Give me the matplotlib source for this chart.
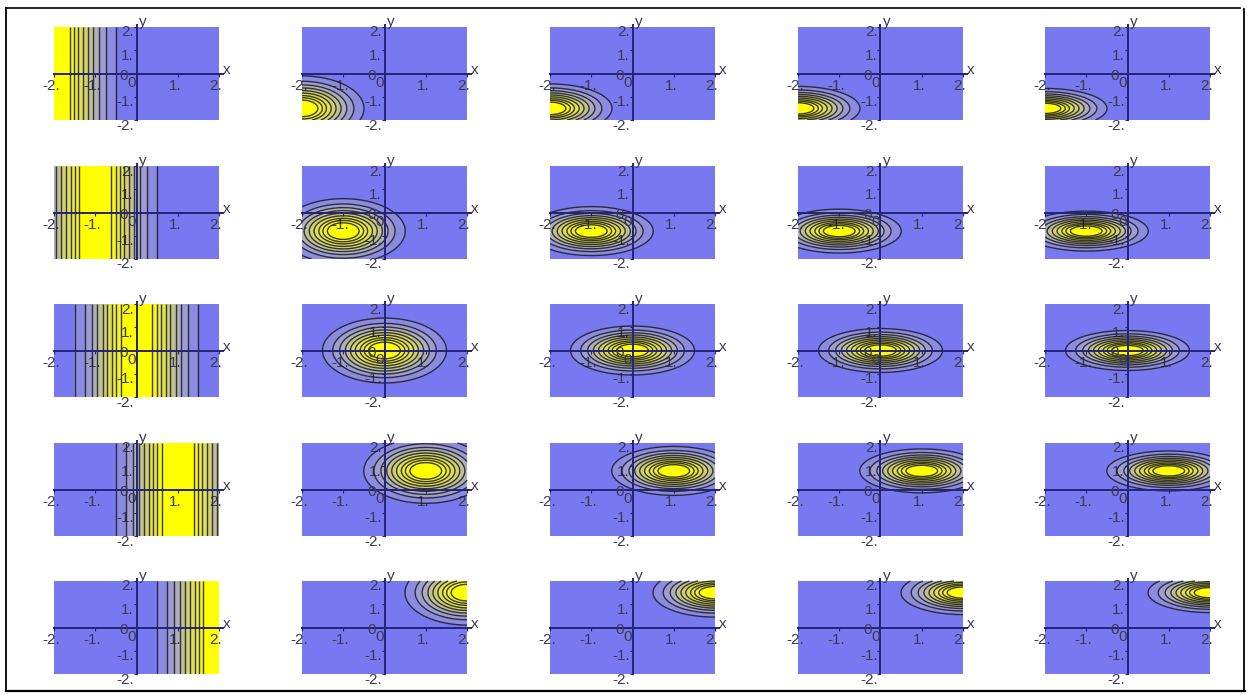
import numpy as np
import matplotlib
matplotlib.use("Agg")
import matplotlib.pyplot as plt
from matplotlib.colors import LinearSegmentedColormap
from matplotlib.lines import Line2D
from matplotlib.transforms import ScaledTranslation

W, H = 1248, 695
plt.rcParams['font.family'] = ['Liberation Sans', 'DejaVu Sans']

# values
centre_x = [-2.0, -1.0, 0.0, 1.0, 2.0]
centre_y = [-1.5, -0.8, 0.0, 0.8, 1.5]
spread_x = 0.7
spread_y = [None, 0.65, 0.49, 0.44, 0.40]
levels = [0.0, 0.1, 0.2, 0.3, 0.4, 0.5, 0.6, 0.7, 0.78, 0.86, 1.0]
xticks = [-2, -1, 1, 2]
xtick_labels = ['-2.', '-1.', '1.', '2.']
yticks = [-2, -1, 1, 2]
ytick_labels = ['-2.', '-1.', '1.', '2.']

col_left = [54, 302, 550, 798, 1045]
row_top = [27, 166, 304, 443, 581]
panel_w, panel_h = 165, 93

cmap = LinearSegmentedColormap.from_list(
    'by', [(0.0, '#7878f0'), (0.3, '#a9a9c8'), (0.55, '#cfcf78'), (0.85, '#f4f430'), (1.0, '#ffff00')])
axis_col = '#23237a'
text_col = '#3a3a50'
line_col = '#1a1a20'

fig = plt.figure(figsize=(W / 100, H / 100), dpi=100, facecolor='white')

grid = np.linspace(-2, 2, 241)
X, Y = np.meshgrid(grid, grid)
shift_x = ScaledTranslation(-3 / 100, 0, fig.dpi_scale_trans)
shift_y = ScaledTranslation(0, -4 / 100, fig.dpi_scale_trans)

for r, top in enumerate(row_top):
    for c, left in enumerate(col_left):
        extra = 0.1 / 4
        ax = fig.add_axes([left / W, 1 - (top + panel_h) / H,
                           panel_w * (1 + extra) / W, panel_h * (1 + extra) / H])
        ax.set_xlim(-2, 2.1)
        ax.set_ylim(-2, 2.1)
        ax.patch.set_alpha(0)
        Z = (X - centre_x[r]) ** 2 / (2 * spread_x ** 2)
        if spread_y[c] is not None:
            Z = Z + (Y - centre_y[r]) ** 2 / (2 * spread_y[c] ** 2)
        Z = np.exp(-Z)
        ax.contourf(X, Y, Z, levels=levels, cmap=cmap, vmin=0.05, vmax=0.93, zorder=1)
        ax.contour(X, Y, Z, levels=levels[1:-1], colors=line_col, linewidths=1.0,
                   alpha=0.85, zorder=2)
        for s in ('top', 'right'):
            ax.spines[s].set_visible(False)
        for s in ('left', 'bottom'):
            ax.spines[s].set_position('zero')
            ax.spines[s].set_color(axis_col)
            ax.spines[s].set_linewidth(1.4)
            ax.spines[s].set_zorder(5)
        ax.set_xticks(xticks, xtick_labels)
        ax.set_yticks(yticks, ytick_labels)
        ax.tick_params(axis='both', length=2, width=0.8, color=axis_col,
                       labelsize=11, labelcolor=text_col)
        ax.tick_params(axis='x', pad=2)
        ax.tick_params(axis='y', pad=0)
        for lab in ax.get_xticklabels():
            lab.set_transform(lab.get_transform() + shift_x)
            lab.set_zorder(6)
        for lab in ax.get_yticklabels():
            lab.set_transform(lab.get_transform() + shift_y)
            lab.set_zorder(6)
        ax.text(-0.2, -0.1, '0', ha='right', va='center', fontsize=11, color=text_col, zorder=6)
        ax.text(-0.12, -0.4, '0', ha='center', va='center', fontsize=11, color=text_col, zorder=6)
        ax.text(2.1, 0.14, 'x', ha='left', va='center', fontsize=11, color=text_col)
        ax.text(0.06, 2.2, 'y', ha='left', va='center', fontsize=11, color=text_col)

# outer frame of the picture
def frame(x0, y0, x1, y1, lw):
    fig.add_artist(Line2D([x0 / W, x1 / W], [1 - y0 / H, 1 - y1 / H],
                          color='black', lw=lw, transform=fig.transFigure))

frame(6, 8, 6, 691, 1.3)
frame(6, 691, 1245, 691, 1.6)
frame(1244, 9, 1244, 691, 1.3)
frame(6, 8, 1240, 8, 1.2)

fig.savefig('out.png', dpi=100, facecolor='white')
